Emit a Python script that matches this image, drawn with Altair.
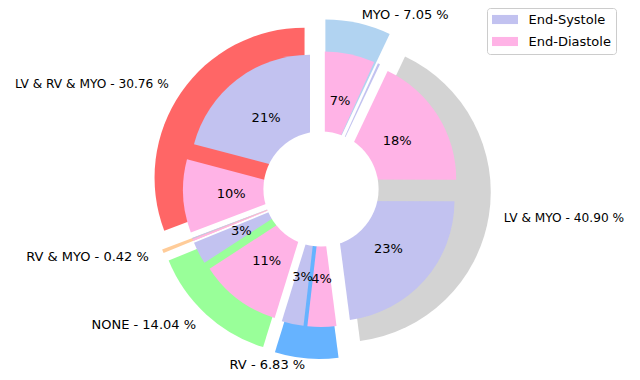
import altair as alt
import pandas as pd

# Outer ring categories, listed clockwise from 12 o'clock
categories = ["MYO", "LV & MYO", "RV", "NONE", "RV & MYO", "LV & RV & MYO"]
category_pct = [7.05, 40.90, 6.83, 14.04, 0.42, 30.76]
category_colors = ["#b1d3f1", "#d3d3d3", "#66b3ff", "#99ff99", "#ffcc99", "#ff6666"]

# Inner ring: each category split into phases
phases = ["End-Systole", "End-Diastole"]
phase_colors = ["#c2c2f0", "#ffb3e6"]
es_pct = [0.30, 22.90, 2.95, 3.00, 0.15, 20.90]
ed_pct = [6.75, 18.00, 3.88, 11.04, 0.27, 9.86]

# geometry (pixels)
CX, CY = 313, 181
R_OUT, R_IN, R_HOLE = 150, 120, 65
EXP_OUT, EXP_IN = 20, 18
LABEL_D, PCT_D = 165, 72
FONT = "DejaVu Sans"

outer_df = pd.DataFrame({"k": list(range(len(categories))), "cat": categories, "value": category_pct})
rows = []
for i, c in enumerate(categories):
    rows.append({"k": 2 * i, "cat": c, "phase": phases[1], "value": ed_pct[i]})
    rows.append({"k": 2 * i + 1, "cat": c, "phase": phases[0], "value": es_pct[i]})
inner_df = pd.DataFrame(rows)


def with_angles(df, dist):
    return (
        alt.Chart(df)
        .transform_window(cum="sum(value)", sort=[alt.SortField("k", order="ascending")], frame=[None, 0])
        .transform_joinaggregate(total="sum(value)")
        .transform_calculate(mid="2*PI*(datum.cum - datum.value/2)/datum.total")
        .transform_calculate(
            px=f"{CX} + {dist}*sin(datum.mid)",
            py=f"{CY} - {dist}*cos(datum.mid)",
        )
    )


outer = with_angles(outer_df, EXP_OUT).mark_arc(radius=R_OUT, radius2=0).encode(
    theta=alt.Theta("value:Q", stack=True),
    order=alt.Order("k:Q"),
    x=alt.X("px:Q", scale=None, axis=None),
    y=alt.Y("py:Q", scale=None, axis=None),
    color=alt.Color("cat:N", scale=alt.Scale(domain=categories, range=category_colors), legend=None),
)

inner = with_angles(inner_df, EXP_IN).mark_arc(radius=R_IN, radius2=0).encode(
    theta=alt.Theta("value:Q", stack=True),
    order=alt.Order("k:Q"),
    x=alt.X("px:Q", scale=None, axis=None),
    y=alt.Y("py:Q", scale=None, axis=None),
    color=alt.Color(
        "phase:N",
        scale=alt.Scale(domain=phases, range=phase_colors),
        legend=alt.Legend(
            title=None,
            orient="none",
            legendX=479,
            legendY=0,
            symbolType="M-2,-0.7L2,-0.7L2,0.7L-2,0.7Z",
            symbolSize=169,
            symbolStrokeWidth=0,
            symbolOffset=6.5,
            labelOffset=17,
            rowPadding=8,
            padding=5,
            strokeColor="#cccccc",
            fillColor="white",
            cornerRadius=3,
            labelFont=FONT,
            labelFontSize=13,
            labelColor="black",
        ),
    ),
)

hole = alt.Chart(pd.DataFrame({"v": [0]})).mark_circle(
    size=3.14159 * R_HOLE * R_HOLE, color="white", opacity=1
).encode(x=alt.value(CX), y=alt.value(CY))

pct_text = (
    with_angles(inner_df, EXP_IN + PCT_D)
    .transform_filter("datum.value/datum.total >= 0.01")
    .transform_calculate(label="format(100*datum.value/datum.total, '.0f') + '%'")
    .mark_text(font=FONT, fontSize=13, color="black", align="center", baseline="middle")
    .encode(x=alt.X("px:Q", scale=None, axis=None), y=alt.Y("py:Q", scale=None, axis=None), text="label:N")
)

lab_base = with_angles(outer_df, EXP_OUT + LABEL_D).transform_calculate(
    label="datum.cat + ' - ' + format(datum.value, '.2f') + ' %'",
    ly="clamp(datum.py, 7, 357)",
    fs="indexof(datum.cat, 'LV') == 0 ? 12.2 : 13",
)
lab_enc = dict(
    x=alt.X("px:Q", scale=None, axis=None),
    y=alt.Y("ly:Q", scale=None, axis=None),
    text="label:N",
    size=alt.Size("fs:Q", scale=None, legend=None),
)
lab_right = lab_base.transform_filter("sin(datum.mid) > 0").mark_text(
    font=FONT, color="black", align="left", baseline="middle"
).encode(**lab_enc)
lab_left = lab_base.transform_filter("sin(datum.mid) <= 0").mark_text(
    font=FONT, color="black", align="right", baseline="middle"
).encode(**lab_enc)

chart = (
    alt.layer(outer, inner, hole, pct_text, lab_right, lab_left)
    .resolve_scale(color="independent", theta="independent")
    .properties(width=624, height=364, padding=0, autosize=alt.AutoSizeParams(type="none"))
    .configure_view(stroke=None)
)

chart.save("out.html", embed_options={"renderer": "svg", "actions": False})
